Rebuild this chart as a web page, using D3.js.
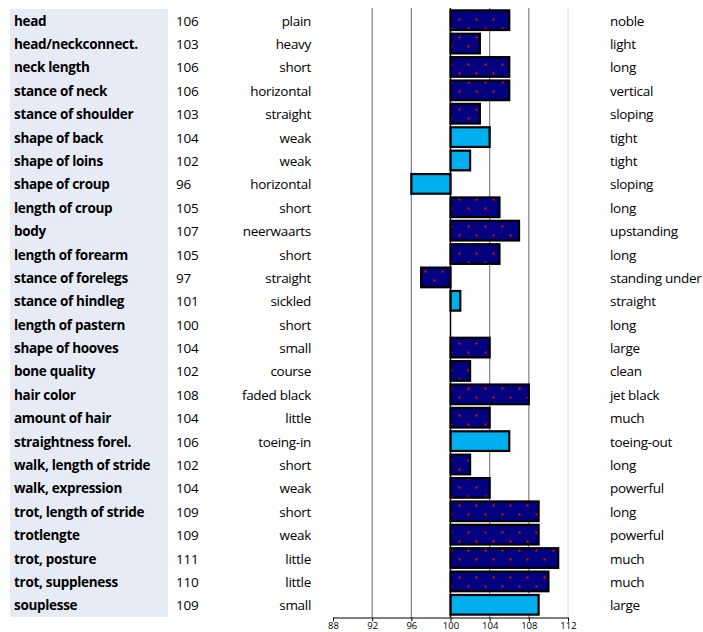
<!DOCTYPE html>
<html>
<head>
<meta charset="utf-8">
<script src="https://cdn.jsdelivr.net/npm/d3@7"></script>
<style>
  html, body { margin: 0; padding: 0; background: #fff; }
  svg { display: block; }
  text { font-family: "Open Sans", "Noto Sans", sans-serif; fill: #000; }
</style>
</head>
<body>
<svg id="chart" width="703" height="632"></svg>
<script>
const traits = ["head","head/neckconnect.","neck length","stance of neck","stance of shoulder","shape of back","shape of loins","shape of croup","length of croup","body","length of forearm","stance of forelegs","stance of hindleg","length of pastern","shape of hooves","bone quality","hair color","amount of hair","straightness forel.","walk, length of stride","walk, expression","trot, length of stride","trotlengte","trot, posture","trot, suppleness","souplesse"];
const scores = [106,103,106,106,103,104,102,96,105,107,105,97,101,100,104,102,108,104,106,102,104,109,109,111,110,109];
const lowLabels = ["plain","heavy","short","horizontal","straight","weak","weak","horizontal","short","neerwaarts","short","straight","sickled","short","small","course","faded black","little","toeing-in","short","weak","short","weak","little","little","small"];
const highLabels = ["noble","light","long","vertical","sloping","tight","tight","sloping","long","upstanding","long","standing under","straight","long","large","clean","jet black","much","toeing-out","long","powerful","long","powerful","much","much","large"];
const lightTraits = ["shape of back","shape of loins","shape of croup","stance of hindleg","straightness forel.","souplesse"];
const tickValues = [88,92,96,100,104,108,112];
const gridValues = [92,96,104,108];

const svg = d3.select("#chart");
const x = d3.scaleLinear().domain([88,112]).range([333,568]);
const y = d3.scaleBand().domain(traits).range([8.5,616.5]).paddingInner(0.16).paddingOuter(0.08);

// pattern for navy bars
const defs = svg.append("defs");
const pat = defs.append("pattern").attr("id","dots").attr("patternUnits","userSpaceOnUse")
  .attr("x",458.5).attr("y",0.5).attr("width",17).attr("height",18);
pat.append("rect").attr("width",17).attr("height",18).attr("fill","#000080");
pat.append("rect").attr("x",0).attr("y",0).attr("width",2).attr("height",2).attr("fill","#ff0000");
pat.append("rect").attr("x",9).attr("y",9).attr("width",2).attr("height",2).attr("fill","#ff0000");

// left panel
svg.append("rect").attr("x",10).attr("y",9).attr("width",158).attr("height",608).attr("fill","#e7ebf6");

// grid
const plotTop = 8, plotBottom = 617.5;
svg.append("line").attr("x1",x(112)).attr("x2",x(112)).attr("y1",plotTop).attr("y2",plotBottom).attr("stroke","#dcdcdc");
svg.selectAll(".grid").data(gridValues).join("line").attr("class","grid")
  .attr("x1",d=>x(d)).attr("x2",d=>x(d)).attr("y1",plotTop).attr("y2",plotBottom)
  .attr("stroke","#808080").attr("stroke-width",1.2);

// bars
const rows = traits.map((t,i)=>({t, v:scores[i], lo:lowLabels[i], hi:highLabels[i]}));
svg.selectAll(".bar").data(rows.filter(d=>d.v!==100)).join("rect").attr("class","bar")
  .attr("x",d=>x(Math.min(100,d.v))).attr("width",d=>Math.abs(x(d.v)-x(100)))
  .attr("y",d=>y(d.t)).attr("height",y.bandwidth())
  .attr("fill",d=>lightTraits.includes(d.t)?"#00b0ee":"url(#dots)")
  .attr("stroke","#000").attr("stroke-width",2.2);

// baseline at 100
svg.append("line").attr("x1",x(100)).attr("x2",x(100)).attr("y1",plotTop).attr("y2",plotBottom).attr("stroke","#000").attr("stroke-width",1.5);

// axis
const axis = svg.append("g").attr("transform",`translate(0,${plotBottom})`)
  .call(d3.axisBottom(x).tickValues(tickValues).tickSize(4).tickSizeOuter(0));
axis.select(".domain").attr("stroke","#000");
axis.selectAll(".tick line").attr("stroke","#000");
axis.selectAll(".tick text").attr("font-size",9.5).attr("font-family","'Open Sans', sans-serif").attr("dy",0).attr("y",11.5).attr("fill","#000");

// texts
const fs = 13.5;
const cy = d => y(d.t) + y.bandwidth()/2 + 5.5;
svg.selectAll(".lbl").data(rows).join("text").attr("class","lbl")
  .attr("x",14).attr("y",cy).attr("font-size",fs).attr("font-weight","bold").attr("letter-spacing",-0.3).text(d=>d.t);
svg.selectAll(".num").data(rows).join("text").attr("class","num")
  .attr("x",176).attr("y",cy).attr("font-size",fs).attr("letter-spacing",-0.2).text(d=>d.v);
svg.selectAll(".lo").data(rows).join("text").attr("class","lo")
  .attr("x",311).attr("y",cy).attr("text-anchor","end").attr("font-size",fs).attr("letter-spacing",-0.3).text(d=>d.lo);
svg.selectAll(".hi").data(rows).join("text").attr("class","hi")
  .attr("x",610).attr("y",cy).attr("font-size",fs).attr("letter-spacing",-0.3).text(d=>d.hi);
</script>
</body>
</html>
